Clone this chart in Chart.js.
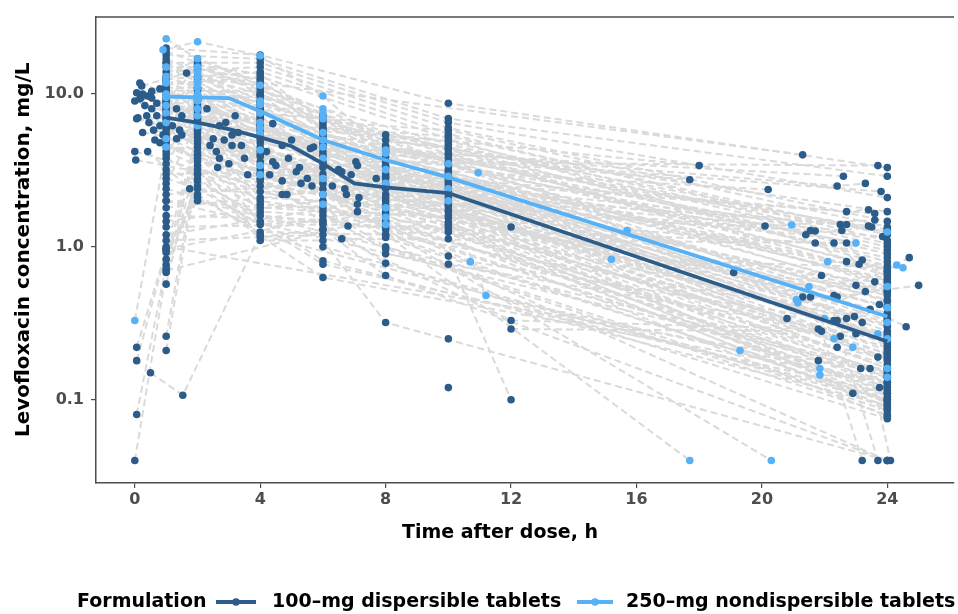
<!DOCTYPE html>
<html>
<head>
<meta charset="utf-8">
<script src="https://cdn.jsdelivr.net/npm/chart.js@4.4.1/dist/chart.umd.min.js"></script>
<style>
  html, body { margin: 0; padding: 0; background: #ffffff; }
  canvas { display: block; }
</style>
</head>
<body>
<canvas id="pk" width="958" height="614"></canvas>
<script>
// Axis ticks
const xTicks = [0, 4, 8, 12, 16, 20, 24];
const yTicks = [0.1, 1, 10];
const yTickLabels = ['0.1', '1.0', '10.0'];

// Titles, legend and series names
const xTitle = 'Time after dose, h';
const yTitle = 'Levofloxacin concentration, mg/L';
const legendTitle = 'Formulation';
const seriesNames = ['100\u2013mg dispersible tablets', '250\u2013mg nondispersible tablets'];

// Individual concentration-time profiles, [hour, mg/L, hour, mg/L, ...]
// 100-mg dispersible tablets
const dispersibleProfiles = [
  [1,13, 2,17, 4,12, 6,7.2, 8,5.4, 24,1.25],
  [1,19, 2,16, 4,10, 6,6.8, 8,4.6, 24,0.95],
  [1,9, 2,15, 4,11, 6,5.9, 8,5.0, 24,1.7],
  [1,17, 2,14, 4,9, 6,6.3, 8,4.2, 24,0.85],
  [1,7.5, 2,13, 4,8, 6,5.5, 8,3.9, 24,0.6],
  [1,15, 2,12, 4,7.5, 6,5.1, 8,3.6, 24,0.68],
  [1,11, 2,11, 4,7, 6,4.8, 8,3.0, 24,0.5],
  [1,6, 2,10.5, 4,6.5, 6,4.5, 8,3.3, 24,0.45],
  [1,12, 2,10, 4,6, 6,4.2, 8,2.8, 24,0.37],
  [1,5, 2,9.5, 4,5.5, 6,3.9, 8,2.6, 24,0.41],
  [1,10, 2,9, 4,5, 6,3.6, 8,2.4, 24,0.31],
  [1,4, 2,8.5, 4,4.5, 6,3.3, 8,2.2, 24,0.26],
  [1,8.5, 2,8, 4,4, 6,3.0, 8,2.0, 24,0.22],
  [1,3.5, 2,7.5, 4,3.6, 6,2.8, 8,1.8, 24,0.2],
  [1,6.5, 2,7, 4,3.2, 6,2.6, 8,1.6, 24,0.17],
  [1,2.6, 2,6.5, 4,2.8, 6,2.4, 8,1.45, 24,0.14],
  [1,5.5, 2,6, 4,2.5, 6,2.2, 8,1.3, 24,0.12],
  [1,0.97, 2,5.5, 4,2.1, 6,2.0, 8,1.15, 24,0.1],
  [1,0.83, 2,5, 4,1.9, 6,1.8, 8,1.0, 24,0.085],
  [1,0.72, 2,4.5, 4,1.7, 6,1.6, 8,0.97, 24,0.08],
  [1,0.57, 2,4, 4,1.47, 6,1.45, 8,0.78, 24,0.075],
  [1,0.26, 2,3.6, 4,1.16, 6,1.3, 8,0.65, 24,0.04],
  [1,0.21, 2,3.2, 4,1.1, 6,1.1, 8,0.32, 24,0.04],
  [0,0.04, 1,0.68, 2,2.8, 6,0.81, 24,0.092],
  [0.06,0.08, 1,0.76, 2,2.5, 6,0.77, 24,0.11],
  [0.06,0.22, 1,0.95, 2,2.2, 6,0.63, 24,0.13],
  [0.06,0.18, 1,0.92, 2,2.0, 24,0.155],
  [1,20, 4,18, 10,8.7, 24,3.3],
  [1,18, 4,17, 10,6.9, 24,2.9],
  [1,16, 4,16, 10,6.5, 24,2.1],
  [1,14, 4,15, 10,6, 24,1.47],
  [1,12.5, 4,14, 10,5.5, 24,1.1],
  [1,11.5, 4,13, 10,5.1, 24,0.75],
  [1,10.5, 4,10.5, 10,4.7, 24,1.0],
  [1,9.5, 4,9.5, 10,4.4, 24,0.55],
  [1,8, 4,8.5, 10,4.1, 24,0.65],
  [1,7, 10,3.8, 24,0.34],
  [1,4.5, 10,3.5, 24,0.5],
  [1,3, 10,3.2, 24,0.28],
  [1,2.2, 10,3.0, 24,0.4],
  [1,1.8, 10,2.8, 24,0.24],
  [1,1.47, 10,2.6, 24,0.3],
  [1,1.2, 10,2.4, 24,0.185],
  [1,0.97, 10,2.2, 24,0.21],
  [1,0.7, 10,2.0, 24,0.16],
  [10,1.85, 24,0.145],
  [10,1.7, 24,0.125],
  [10,1.55, 24,0.105],
  [10,1.4, 24,0.095],
  [10,1.3, 24,0.087],
  [10,1.13, 24,0.078],
  [10,0.87, 12,0.1],
  [10,0.77, 24,0.04],
  [10,0.25],
  [10,0.12],
  [1,16, 2,13, 4,10, 8,4.4, 24,1.3],
  [1,13, 2,11, 4,8.8, 10,4.3, 24,0.9],
  [1,12, 2,9.8, 4,7.8, 8,3.4, 24,0.62],
  [1,10.5, 2,9.2, 4,6.8, 10,3.6, 24,0.72],
  [1,9.2, 2,8.2, 4,6.2, 8,2.9, 24,0.48],
  [1,8.8, 2,7.8, 4,5.8, 10,3.1, 24,0.52],
  [1,8.2, 2,7.2, 4,5.2, 8,2.5, 24,0.36],
  [1,7.8, 2,6.8, 4,4.8, 10,2.7, 24,0.33],
  [1,7.2, 2,6.2, 4,4.2, 8,2.1, 24,0.27],
  [1,6.8, 2,5.8, 4,3.9, 10,2.5, 24,0.25],
  [1,6.2, 2,5.2, 4,3.4, 8,1.9, 24,0.19],
  [1,5.8, 2,4.8, 4,3.0, 10,2.3, 24,0.23],
  [1,5.2, 2,4.2, 4,2.7, 8,1.7, 24,0.15],
  [1,4.8, 2,3.8, 4,2.3, 10,2.1, 24,0.18],
  [1,4.2, 2,3.4, 4,2.0, 8,1.5, 24,0.13],
  [1,3.8, 2,3.0, 4,1.8, 10,1.9, 24,0.16],
  [1,3.2, 2,2.7, 4,1.6, 8,1.35, 24,0.115],
  [1,2.8, 2,2.4, 4,1.4, 10,1.75, 24,0.14],
  [1,2.4, 2,2.1, 4,1.25, 8,1.2, 24,0.098],
  [1,2.0, 6,1.7, 10,1.6, 24,0.12],
  [1,1.6, 6,1.5, 10,1.45, 24,0.11],
  [1,1.35, 6,1.4, 10,1.35, 24,0.1],
  [1,1.1, 6,1.2, 10,1.25, 24,0.09],
  [2,15.5, 4,13.5, 6,6.6, 10,5.8, 24,1.35],
  [2,14.5, 4,12.5, 6,6.0, 10,5.3, 24,1.2],
  [2,12.5, 4,11.5, 6,5.7, 10,4.9, 24,1.05],
  [2,10.8, 4,9.8, 6,5.3, 10,4.5, 24,0.8],
  [2,9.3, 4,8.2, 6,4.6, 10,4.0, 24,0.7],
  [4,7.2, 6,4.0, 10,3.4, 24,0.58],
  [4,6.3, 6,3.5, 10,2.9, 24,0.44],
  [0.22,11.3, 1.65,13.7, 21.3,4.0],
  [0.16,11.8, 2.3,8, 4.4,6.4, 18.0,3.4],
  [0.06,10.2, 1.33,8.0, 3.2,7.2, 7.05,3.6, 23.7,3.4],
  [0.25,10, 1.5,7.2, 2.9,6.5, 5.7,4.5, 22.6,2.9],
  [0.41,9.7, 2.7,6.2, 5.6,4.4, 17.7,2.75],
  [0.16,9.3, 1.2,6.2, 3.3,5.6, 5.0,5.0, 22.4,2.5, 23.3,2.6],
  [0,9.0, 3.1,5.4, 4.9,3.8, 7.1,3.4, 20.2,2.37],
  [0.54,9.4, 1.43,5.8, 2.85,5.0, 4.7,4.6, 23.8,2.3],
  [0.7,8.7, 2.5,5.1, 4.2,4.2, 6.9,2.96, 22.7,1.7, 23.4,1.75],
  [0.06,6.9, 1.5,5.4, 3.4,4.6, 4.4,3.6, 6.5,3.2, 23.6,1.65],
  [0.38,7.2, 2.4,4.6, 5.25,3.3, 6.6,3.1, 20.1,1.37, 23.6,1.5],
  [0.25,5.6, 1.33,5.1, 3.1,4.6, 4.5,3.4, 7.7,2.8, 22.5,1.4],
  [0.32,8.4, 2.6,4.2, 5.15,3.1, 6.3,2.5, 22.7,1.4, 23.4,1.37],
  [0.54,8.0, 2.7,3.8, 4.3,2.96, 6.7,2.4, 22.55,1.28, 23.5,1.35],
  [0.7,7.2, 3.5,3.8, 5.5,2.8, 6.75,2.2, 21.4,1.2],
  [0.8,6.2, 3.0,3.5, 5.3,2.6, 7.15,2.1, 21.55,1.28, 23.85,1.17],
  [0.64,5.0, 2.64,3.3, 4.7,2.7, 7.1,1.9, 21.7,1.27],
  [0.8,4.8, 3.6,2.96, 5.65,2.5, 7.1,1.7, 21.7,1.06, 22.7,0.8],
  [0.41,4.2, 1.75,2.4, 4.7,2.2, 6.8,1.37, 22.3,1.06, 23.1,0.77],
  [0,4.2, 4.85,2.2, 6.6,1.13, 22.7,1.06, 23.2,0.82],
  [0.03,3.7, 19.1,0.68, 23.0,0.56],
  [0.9,5.4, 21.9,0.65, 23.6,0.59],
  [0.8,10.8, 20.8,0.34, 23.3,0.51],
  [0.54,10.4, 21.3,0.47, 22.3,0.48, 24.7,0.85],
  [0.2,9.5, 21.55,0.47, 22.4,0.47, 25.0,0.56],
  [0.1,7.0, 22.3,0.33, 23.75,0.42],
  [0.45,6.5, 22.4,0.33, 23.45,0.39, 24.6,0.3],
  [0.6,5.8, 22.7,0.34, 23.2,0.32],
  [6,1.3, 12,0.33, 21.8,0.29],
  [12,0.29, 21.9,0.28, 23.2,0.04],
  [4,3.0, 22.5,0.26, 23.7,0.04],
  [2,3.0, 22.4,0.22, 23.7,0.19],
  [1,2.0, 23.45,0.16, 24.1,0.04],
  [1,1.0, 21.8,0.18, 23.15,0.16],
  [6,1.0, 22.9,0.11, 23.75,0.12],
  [8,1.2, 22.95,0.35],
  [8,0.9, 23.0,0.27],
  [0.5,0.15, 1.53,0.107, 4,1.2, 24,0.1],
  [2,4.0, 12,1.35, 24,0.2]
];

// 250-mg nondispersible tablets
const nondispersibleProfiles = [
  [0.9,19.5, 2,22, 4,17.8, 6,9.7, 8,4.3, 24,1.25],
  [1,23, 2,17, 4,11.4, 6,8, 10,3.5, 15.7,1.28],
  [1,15, 2,15, 6,7.5, 8,4.1, 20.95,1.39],
  [1,11.8, 2,12, 4,7.5, 6,6.9, 10.95,3.05, 23.0,1.06],
  [1,8.4, 2,11, 6,5.6, 10,2.9, 22.1,0.8, 24.3,0.76],
  [1,6.5, 2,9, 4,5.5, 6,3.8, 15.2,0.83, 24.5,0.73],
  [1,5.1, 2,8, 4,4.3, 8,1.8, 21.5,0.55, 24,0.55],
  [2,7.2, 4,3.4, 6,2.8, 10,2.4, 21.1,0.45, 22.3,0.25],
  [2,6.2, 4,2.96, 6,2.2, 8,1.56, 21.15,0.43, 22.9,0.22],
  [0,0.33, 1,4.5, 6,1.9, 8,1.4, 10.7,0.8, 22.0,0.34, 24,0.25],
  [1,10, 4,9, 10,2.0, 11.2,0.48, 19.3,0.21, 21.85,0.16],
  [1,13, 2,14, 6,4.5, 23.7,0.27, 24,0.16],
  [1,7.5, 4,6.5, 21.85,0.145, 24,0.14],
  [2,10, 17.7,0.04],
  [1,9.5, 20.3,0.04],
  [2,13, 4,8.5, 6,5.0, 8,3.2, 24,0.4],
  [1,12, 2,11.5, 4,6, 8,2.6, 24,0.32]
];

// Median concentration by formulation
const dispersibleMedianHours = [1, 2, 3, 4, 5, 6, 7, 8, 10, 24];
const dispersibleMedianConc  = [7.0, 6.5, 5.9, 5.2, 4.55, 3.5, 2.6, 2.45, 2.25, 0.24];
const nondispersibleMedianHours = [1, 2, 3, 4, 6, 8, 10, 24];
const nondispersibleMedianConc  = [9.6, 9.5, 9.4, 7.7, 5.0, 3.7, 2.85, 0.35];

// Styling
const FONT = "'DejaVu Sans', sans-serif";
const darkBlue = '#2C5D8A';
const lightBlue = '#56B1F7';
const profileGrey = '#DADADA';
const axisGrey = '#4D4D4D';

function pairsToPoints(a) {
  const pts = [];
  for (let i = 0; i + 1 < a.length; i += 2) pts.push({ x: a[i], y: a[i + 1] });
  return pts;
}
function zipPoints(xs, ys) {
  return xs.map((x, i) => ({ x: x, y: ys[i] }));
}

const datasets = [];

// Median lines (on top)
datasets.push({
  data: zipPoints(nondispersibleMedianHours, nondispersibleMedianConc),
  showLine: true, borderColor: lightBlue, borderWidth: 3.8,
  pointRadius: 0, order: 0
});
datasets.push({
  data: zipPoints(dispersibleMedianHours, dispersibleMedianConc),
  showLine: true, borderColor: darkBlue, borderWidth: 3.8,
  pointRadius: 0, order: 1
});

// Observations
datasets.push({
  data: nondispersibleProfiles.flatMap(pairsToPoints),
  showLine: false, pointRadius: 3.8, pointBorderWidth: 0,
  pointBackgroundColor: lightBlue, order: 2
});
datasets.push({
  data: dispersibleProfiles.flatMap(pairsToPoints),
  showLine: false, pointRadius: 3.8, pointBorderWidth: 0,
  pointBackgroundColor: darkBlue, order: 3
});

// Individual profiles as dashed grey lines
dispersibleProfiles.concat(nondispersibleProfiles).forEach(p => {
  datasets.push({
    data: pairsToPoints(p),
    showLine: true, borderColor: profileGrey, borderWidth: 2,
    borderDash: [7, 4], pointRadius: 0, order: 10
  });
});

// Top frame line, x-axis title and the legend row
const frameAndKey = {
  id: 'frameAndKey',
  afterDraw(chart) {
    const { ctx, chartArea: a } = chart;
    ctx.save();
    ctx.strokeStyle = axisGrey;
    ctx.lineWidth = 1.5;
    ctx.beginPath();
    ctx.moveTo(a.left, a.top + 0.5);
    ctx.lineTo(a.right, a.top + 0.5);
    ctx.stroke();

    ctx.font = 'bold 19px ' + FONT;
    ctx.fillStyle = '#000000';
    ctx.textBaseline = 'middle';
    ctx.textAlign = 'center';
    ctx.fillText(xTitle, 500, 533);

    const y = 602;
    ctx.textAlign = 'left';
    ctx.fillText(legendTitle, 77, y);

    const keys = [
      { x0: 216, x1: 256, color: darkBlue, tx: 272, label: seriesNames[0] },
      { x0: 577, x1: 613, color: lightBlue, tx: 626, label: seriesNames[1] }
    ];
    keys.forEach(k => {
      ctx.strokeStyle = k.color;
      ctx.lineWidth = 3.8;
      ctx.beginPath();
      ctx.moveTo(k.x0, y);
      ctx.lineTo(k.x1, y);
      ctx.stroke();
      ctx.fillStyle = k.color;
      ctx.beginPath();
      ctx.arc((k.x0 + k.x1) / 2, y, 3.8, 0, Math.PI * 2);
      ctx.fill();
      ctx.fillStyle = '#000000';
      ctx.fillText(k.label, k.tx, y);
    });
    ctx.restore();
  }
};

new Chart(document.getElementById('pk'), {
  type: 'scatter',
  data: { datasets: datasets },
  plugins: [frameAndKey],
  options: {
    responsive: false,
    devicePixelRatio: 1,
    animation: false,
    events: [],
    layout: { padding: { top: 10, right: 0, bottom: 0, left: 0 } },
    plugins: { legend: { display: false }, tooltip: { enabled: false } },
    scales: {
      x: {
        type: 'linear',
        min: -1.238,
        max: 26.127,
        afterFit: s => { s.height = 131; },
        afterBuildTicks: s => { s.ticks = xTicks.map(v => ({ value: v })); },
        ticks: {
          autoSkip: false, maxRotation: 0, padding: 2,
          color: axisGrey,
          font: { family: FONT, size: 16, weight: 'bold' },
          callback: v => String(v)
        },
        grid: { display: true, drawOnChartArea: false, drawTicks: true, tickLength: 5, color: axisGrey, lineWidth: 1.2 },
        border: { display: true, color: axisGrey, width: 1.5 },
        title: { display: false }
      },
      y: {
        type: 'logarithmic',
        min: 0.0285,
        max: 32.1,
        afterFit: s => { s.width = 96; },
        afterBuildTicks: s => { s.ticks = yTicks.map(v => ({ value: v })); },
        ticks: {
          autoSkip: false, padding: 7,
          color: axisGrey,
          font: { family: FONT, size: 16, weight: 'bold' },
          callback: (v, i) => yTickLabels[i]
        },
        grid: { display: true, drawOnChartArea: false, drawTicks: true, tickLength: 5, color: axisGrey, lineWidth: 1.2 },
        border: { display: true, color: axisGrey, width: 1.5 },
        title: {
          display: true, text: yTitle, color: '#000000',
          font: { family: FONT, size: 20, weight: 'bold' },
          padding: { top: 12, bottom: 0 }
        }
      }
    }
  }
});
</script>
</body>
</html>
